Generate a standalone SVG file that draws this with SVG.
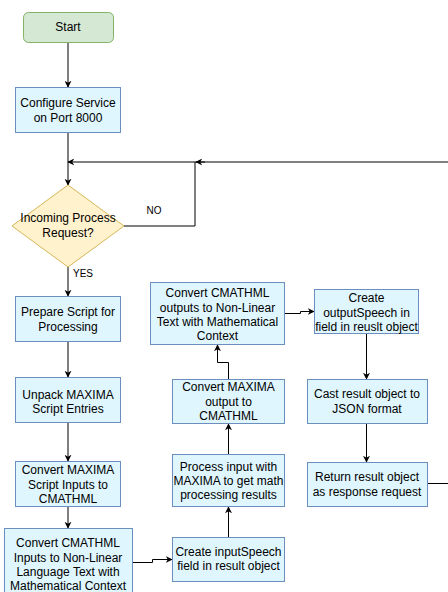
<svg xmlns="http://www.w3.org/2000/svg" width="448" height="592" viewBox="0 0 448 592">
<style>
.n{fill:#dff6fe;stroke:#6c8ebf;stroke-width:1}
.t{font-family:"Liberation Sans",Arial,sans-serif;font-size:12px;fill:#000;text-anchor:middle}
.l{font-family:"Liberation Sans",Arial,sans-serif;font-size:10px;fill:#000;text-anchor:middle}
.c{fill:none;stroke:#000;stroke-width:1}
</style>
<defs>
<marker id="a" viewBox="0 0 10 10" refX="9" refY="5" markerWidth="7" markerHeight="7" orient="auto" markerUnits="userSpaceOnUse">
<path d="M0,0 L10,5 L0,10 L3,5 Z" fill="#000"/>
</marker>
</defs>
<rect width="448" height="592" fill="#fff"/>
<g id="connectors">
<path class="c" d="M68,42 V87" marker-end="url(#a)"/>
<path class="c" d="M68,132 V185" marker-end="url(#a)"/>
<path class="c" d="M448,162 H68" marker-end="url(#a)"/>
<path class="c" d="M124,226 H195 V162" />
<path class="c" d="M205,162 H196" marker-end="url(#a)"/>
<path class="c" d="M68,267 V296" marker-end="url(#a)"/>
<path class="c" d="M68,342 V377" marker-end="url(#a)"/>
<path class="c" d="M68,423 V461" marker-end="url(#a)"/>
<path class="c" d="M68,507 V528" marker-end="url(#a)"/>
<path class="c" d="M132.5,562.5 H152.5 V559.5 H172" marker-end="url(#a)"/>
<path class="c" d="M228.5,537 V507" marker-end="url(#a)"/>
<path class="c" d="M228.5,454 V424" marker-end="url(#a)"/>
<path class="c" d="M228.5,379 V362.5 H217.5 V345" marker-end="url(#a)"/>
<path class="c" d="M285,313.5 H300.5 V311.5 H314" marker-end="url(#a)"/>
<path class="c" d="M366.5,334 V379" marker-end="url(#a)"/>
<path class="c" d="M366.5,424 V462" marker-end="url(#a)"/>
<path class="c" d="M427,483.5 H448"/>
<text class="l" x="154" y="214">NO</text>
<text class="l" x="83" y="277">YES</text>
</g>
<g id="start">
<rect x="23.5" y="12.5" width="90" height="30" rx="5" fill="#d5e8d4" stroke="#82b366"/>
<text class="t" x="68" y="31">Start</text>
</g>
<g id="configure">
<rect class="n" x="15.5" y="87.5" width="105" height="45"/>
<text class="t" x="68" y="107">Configure Service</text>
<text class="t" x="68" y="122">on Port 8000</text>
</g>
<g id="decision">
<path d="M68,185 L124,226 L68,267 L12,226 Z" fill="#fff2cc" stroke="#d6b656"/>
<text class="t" x="68" y="222">Incoming Process</text>
<text class="t" x="68" y="237">Request?</text>
</g>
<g id="prepare">
<rect class="n" x="15.5" y="296.5" width="105" height="45"/>
<text class="t" x="68" y="316">Prepare Script for</text>
<text class="t" x="68" y="331">Processing</text>
</g>
<g id="unpack">
<rect class="n" x="15.5" y="377.5" width="105" height="45"/>
<text class="t" x="68" y="399">Unpack MAXIMA</text>
<text class="t" x="68" y="413">Script Entries</text>
</g>
<g id="convert-script">
<rect class="n" x="15.5" y="461.5" width="105" height="45"/>
<text class="t" x="68" y="474">Convert MAXIMA</text>
<text class="t" x="68" y="488.5">Script Inputs to</text>
<text class="t" x="68" y="503">CMATHML</text>
</g>
<g id="convert-inputs">
<rect class="n" x="4.5" y="528.5" width="128" height="66"/>
<text class="t" x="68" y="547">Convert CMATHML</text>
<text class="t" x="68" y="561.5">Inputs to Non-Linear</text>
<text class="t" x="68" y="576">Language Text with</text>
<text class="t" x="68" y="590">Mathematical Context</text>
</g>
<g id="input-speech">
<rect class="n" x="172.5" y="537.5" width="112" height="44"/>
<text class="t" x="228.5" y="555.5">Create inputSpeech</text>
<text class="t" x="228.5" y="570">field in result object</text>
</g>
<g id="process">
<rect class="n" x="172.5" y="454.5" width="112" height="52"/>
<text class="t" x="228.5" y="470.5">Process input with</text>
<text class="t" x="228.5" y="484.5">MAXIMA to get math</text>
<text class="t" x="228.5" y="498.5">processing results</text>
</g>
<g id="convert-output">
<rect class="n" x="172.5" y="379.5" width="112" height="44"/>
<text class="t" x="228.5" y="391">Convert MAXIMA</text>
<text class="t" x="228.5" y="405.5">output to</text>
<text class="t" x="228.5" y="420">CMATHML</text>
</g>
<g id="convert-outputs">
<rect class="n" x="150.5" y="282.5" width="134" height="62"/>
<text class="t" x="217.5" y="297">Convert CMATHML</text>
<text class="t" x="217.5" y="311.5">outputs to Non-Linear</text>
<text class="t" x="217.5" y="326">Text with Mathematical</text>
<text class="t" x="217.5" y="340">Context</text>
</g>
<g id="output-speech">
<rect class="n" x="314.5" y="289.5" width="104" height="44"/>
<text class="t" x="366.5" y="302">Create</text>
<text class="t" x="366.5" y="316.5">outputSpeech in</text>
<text class="t" x="366.5" y="330.5">field in reuslt object</text>
</g>
<g id="cast">
<rect class="n" x="307.5" y="379.5" width="120" height="44"/>
<text class="t" x="367" y="398">Cast result object to</text>
<text class="t" x="367" y="413">JSON format</text>
</g>
<g id="return">
<rect class="n" x="307.5" y="462.5" width="120" height="44"/>
<text class="t" x="367" y="481">Return result object</text>
<text class="t" x="367" y="496">as response request</text>
</g>
</svg>
